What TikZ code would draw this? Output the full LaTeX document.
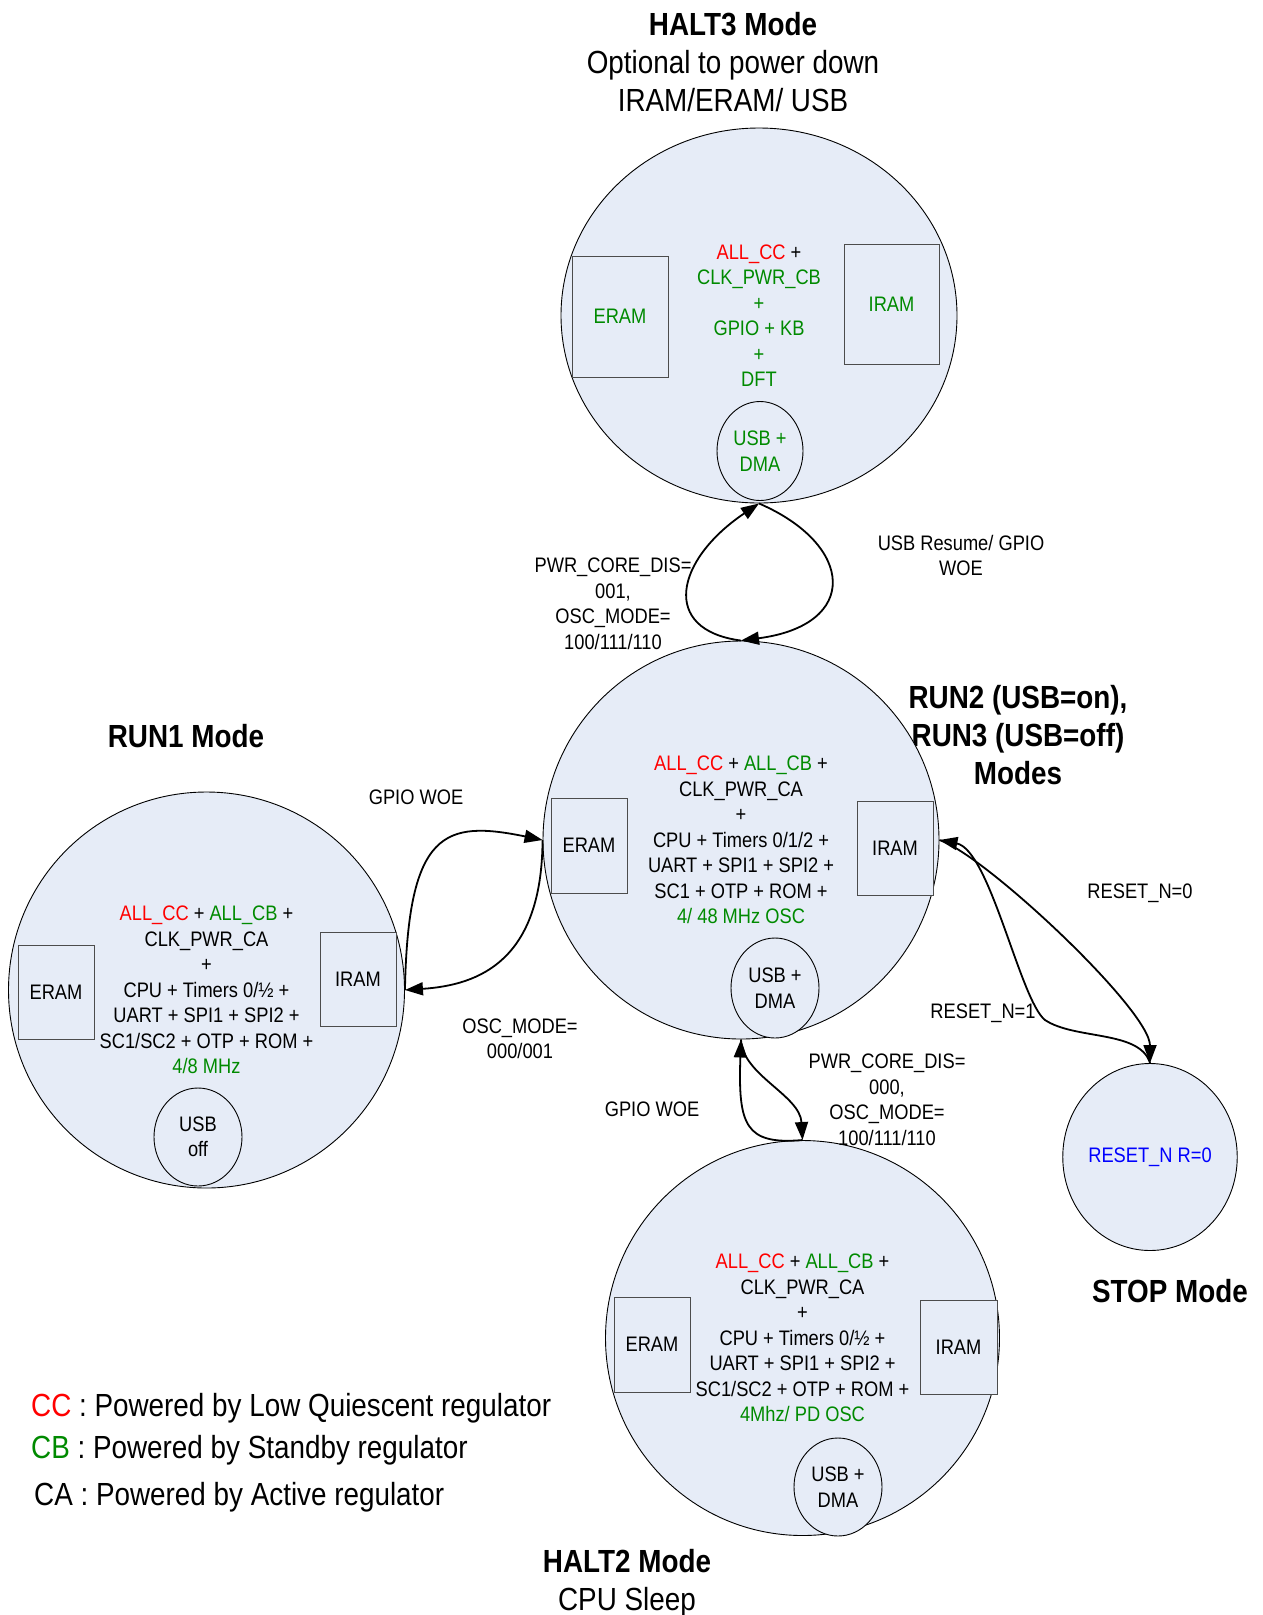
\documentclass[tikz,border=0pt]{standalone}
\usepackage{fontspec}
\setmainfont{Liberation Sans}[FakeStretch=0.87]
\usetikzlibrary{shapes.geometric,arrows.meta}
\definecolor{modefill}{RGB}{230,236,247}
\definecolor{ccred}{RGB}{255,0,0}
\definecolor{cbgreen}{RGB}{0,138,0}
\definecolor{resetblue}{RGB}{0,0,255}
\newcommand\innerfont{\fontsize{21}{25.5}\selectfont}
\newcommand\titlefont{\fontsize{32}{38}\selectfont}
\begin{document}
\begin{tikzpicture}[x=1pt,y=-1pt,
  mode/.style={ellipse, draw=black, line width=0.9pt, fill=modefill, inner sep=0pt, font=\innerfont, align=center},
  mem/.style={rectangle, draw=black!70, line width=0.9pt, fill=modefill, inner sep=0pt, minimum width=76pt, minimum height=95pt, font=\innerfont},
  usb/.style={ellipse, draw=black, line width=0.9pt, fill=modefill, inner sep=0pt, minimum width=88pt, minimum height=99pt, font=\innerfont, align=center},
  lbl/.style={font=\innerfont, align=center, inner sep=0pt},
  ttl/.style={font=\titlefont, align=center, inner sep=0pt},
  ttlb/.style={font=\titlefont\bfseries, align=center, inner sep=0pt},
  conn/.style={line width=1.8pt, -{Triangle[length=18pt,width=13pt]}},
]
\useasboundingbox (0,0) rectangle (1263,1615);
\fill[white] (0,0) rectangle (1263,1615);

% HALT3
\node[ttl] (t3) at (733,62.5) {\textbf{HALT3 Mode}\\Optional to power down\\IRAM/ERAM/ USB};
\node[mode, minimum width=396pt, minimum height=375pt] (halt3) at (759,315.5)
  {\textcolor{ccred}{ALL\_CC} +\\
   \textcolor{cbgreen}{CLK\_PWR\_CB}\\
   \textcolor{cbgreen}{+}\\
   \textcolor{cbgreen}{GPIO + KB}\\
   \textcolor{cbgreen}{+}\\
   \textcolor{cbgreen}{DFT}};
\node[mem, minimum width=96pt, minimum height=121pt, text=cbgreen] (h3eram) at (620,316.5) {ERAM};
\node[mem, minimum width=95pt, minimum height=120pt, text=cbgreen] (h3iram) at (891.5,304) {IRAM};
\node[usb, minimum width=86pt, minimum height=99pt, text=cbgreen] (h3usb) at (760,451) {USB +\\DMA};

% RUN2 / RUN3
\node[ttlb] (t2) at (1018,735.5) {RUN2 (USB=on),\\RUN3 (USB=off)\\Modes};
\node[mode, minimum width=396pt, minimum height=398pt] (run2) at (741,840)
  {\textcolor{ccred}{ALL\_CC} + \textcolor{cbgreen}{ALL\_CB} +\\
   CLK\_PWR\_CA\\
   +\\
   CPU + Timers 0/1/2 +\\
   UART + SPI1 + SPI2 +\\
   SC1 + OTP + ROM +\\
   \textcolor{cbgreen}{4/ 48 MHz OSC}};
\node[mem] (r2eram) at (589,845.5) {ERAM};
\node[mem, minimum height=94pt] (r2iram) at (895,848) {IRAM};
\node[usb, minimum height=100pt] (r2usb) at (775,988) {USB +\\DMA};

% RUN1
\node[ttlb] (t1) at (186,736) {RUN1 Mode};
\node[mode, minimum width=396pt, minimum height=396pt] (run1) at (206.5,990)
  {\textcolor{ccred}{ALL\_CC} + \textcolor{cbgreen}{ALL\_CB} +\\
   CLK\_PWR\_CA\\
   +\\
   CPU + Timers 0/½ +\\
   UART + SPI1 + SPI2 +\\
   SC1/SC2 + OTP + ROM +\\
   \textcolor{cbgreen}{4/8 MHz}};
\node[mem, minimum height=94pt] (r1eram) at (56,992) {ERAM};
\node[mem, minimum height=94pt] (r1iram) at (358,979) {IRAM};
\node[usb, minimum height=98pt] (r1usb) at (198,1137) {USB\\off};

% HALT2
\node[mode, minimum width=394pt, minimum height=395pt] (halt2) at (802.5,1338)
  {\textcolor{ccred}{ALL\_CC} + \textcolor{cbgreen}{ALL\_CB} +\\
   CLK\_PWR\_CA\\
   +\\
   CPU + Timers 0/½ +\\
   UART + SPI1 + SPI2 +\\
   SC1/SC2 + OTP + ROM +\\
   \textcolor{cbgreen}{4Mhz/ PD OSC}};
\node[mem] (h2eram) at (652,1344.5) {ERAM};
\node[mem, minimum width=77pt, minimum height=94pt] (h2iram) at (958.5,1347) {IRAM};
\node[usb, minimum height=98pt] (h2usb) at (838,1487) {USB +\\DMA};
\node[ttl] (th2) at (627,1583) {\textbf{HALT2 Mode}\\CPU Sleep};

% STOP
\node[mode, minimum width=168pt, minimum height=187pt, text=resetblue] (stop) at (1150,1157) {RESET\_N R=0};
\node[ttlb] (ts) at (1170,1291) {STOP Mode};

% connectors
\draw[conn] (run2.north) .. controls (660,630) and (675,560) .. (halt3.south);
\draw[conn] (halt3.south) .. controls (855,545) and (860,625) .. (run2.north);
\draw[conn] (run1.east) .. controls (408,830) and (445,820) .. (run2.west);
\draw[conn] (run2.west) .. controls (542,960) and (480,985) .. (run1.east);
\draw[conn] (run2.south) .. controls (742,1075) and (800,1095) .. (halt2.north);
\draw[conn] (halt2.north) .. controls (745,1145) and (738,1125) .. (run2.south);
\coordinate (bend) at (1045,1020);
\draw[conn] (run2.east) .. controls (985,855) and (1150,1010) .. (stop.north);
\draw[conn] (stop.north) .. controls (1140,1030) and (1075,1040) .. (bend) .. controls (1020,1000) and (990,850) .. (run2.east);

% labels
\node[lbl] (l1) at (613,604) {PWR\_CORE\_DIS=\\001,\\OSC\_MODE=\\100/111/110};
\node[lbl] (l2) at (961,555.5) {USB Resume/ GPIO\\WOE};
\node[lbl] (l3) at (416,797) {GPIO WOE};
\node[lbl] (l4) at (520,1039) {OSC\_MODE=\\000/001};
\node[lbl] (l5) at (652,1109) {GPIO WOE};
\node[lbl] (l6) at (887,1100) {PWR\_CORE\_DIS=\\000,\\OSC\_MODE=\\100/111/110};
\node[lbl] (l7) at (1140,893) {RESET\_N=0};
\node[lbl] (l8) at (983,1013) {RESET\_N=1};

% legend
\node[anchor=west, font=\titlefont, inner sep=0pt] (lgcc) at (31,1408) {\textcolor{ccred}{CC} : Powered by Low Quiescent regulator};
\node[anchor=west, font=\titlefont, inner sep=0pt] (lgcb) at (31,1450) {\textcolor{cbgreen}{CB} : Powered by Standby regulator};
\node[anchor=west, font=\titlefont, inner sep=0pt] (lgca) at (34,1497) {CA : Powered by Active regulator};
\end{tikzpicture}
\end{document}
